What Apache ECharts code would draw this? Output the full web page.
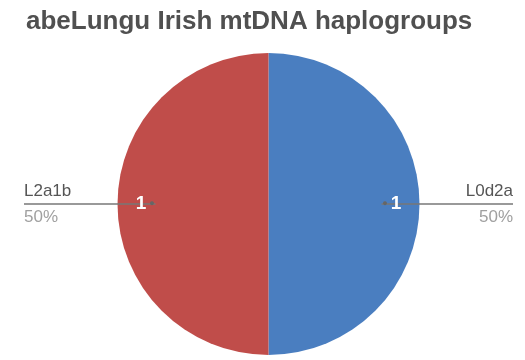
<!DOCTYPE html>
<html>
<head>
<meta charset="utf-8">
<script src="https://cdn.jsdelivr.net/npm/echarts@6/dist/echarts.min.js"></script>
<style>
  html, body { margin: 0; padding: 0; background: #fff; }
  #chart { width: 525px; height: 360px; }
</style>
</head>
<body>
<div id="chart"></div>
<script>
// Haplogroup counts for the sample
const haplogroups = ['L0d2a', 'L2a1b'];
const counts = [1, 1];
const sliceColors = ['#4a7ec0', '#c04d4a'];

const titleText = 'abeLungu Irish mtDNA haplogroups';
const FONT = '"Liberation Sans", Arial, sans-serif';

const total = counts.reduce((a, b) => a + b, 0);
const pieData = haplogroups.map((name, i) => ({
  name: name,
  value: counts[i],
  itemStyle: { color: sliceColors[i] }
}));
const plainData = () => pieData.map(d => ({ name: d.name, value: d.value }));

// shared geometry for all stacked pie layers
const layout = {
  left: 24, right: 12, top: 0, bottom: 0,
  center: ['50%', 204],
  startAngle: 90,
  clockwise: true,
  silent: true,
  animation: false,
  emphasis: { disabled: true }
};

const clear = { color: 'rgba(0,0,0,0)' };

const chart = echarts.init(document.getElementById('chart'));
chart.setOption({
  backgroundColor: '#fff',
  title: {
    text: titleText,
    left: 21, top: 4,
    textStyle: { fontFamily: FONT, fontSize: 26, fontWeight: 'bold', color: '#505050' }
  },
  series: [
    Object.assign({}, layout, {
      type: 'pie',
      radius: 151,
      data: pieData,
      label: { show: false },
      labelLine: { show: false },
      itemStyle: { borderWidth: 0 }
    }),
    // outer name/percent labels with leader lines
    Object.assign({}, layout, {
      type: 'pie',
      radius: 113,
      z: 3,
      data: plainData(),
      itemStyle: clear,
      label: {
        show: true,
        position: 'outside',
        alignTo: 'edge',
        edgeDistance: 0,
        distanceToLabelLine: -60,
        formatter: p => '{n|' + p.name + '}\n{p|' + Math.round(p.value / total * 100) + '%}',
        rich: {
          n: { fontFamily: FONT, fontSize: 17, color: '#555', width: 60, height: 26, lineHeight: 26, verticalAlign: 'middle' },
          p: { fontFamily: FONT, fontSize: 17, color: '#a0a0a0', width: 60, height: 26, lineHeight: 26, verticalAlign: 'middle' }
        }
      },
      labelLine: {
        show: true,
        length: 0,
        length2: 10,
        lineStyle: { color: '#777', width: 1.5 }
      }
    }),
    // anchor dots at the start of each leader line
    Object.assign({}, layout, {
      type: 'pie',
      radius: [101, 126],
      z: 4,
      data: plainData(),
      itemStyle: clear,
      label: {
        show: true,
        position: 'inside',
        formatter: '●',
        fontSize: 9,
        color: '#666'
      },
      labelLine: { show: false }
    }),
    // value labels inside the slices
    Object.assign({}, layout, {
      type: 'pie',
      radius: [104, 145],
      z: 5,
      data: plainData(),
      itemStyle: clear,
      label: {
        show: true,
        position: 'inside',
        formatter: '{c}',
        fontFamily: FONT,
        fontSize: 19,
        fontWeight: 'bold',
        color: '#fff'
      },
      labelLine: { show: false }
    })
  ]
});
</script>
</body>
</html>
